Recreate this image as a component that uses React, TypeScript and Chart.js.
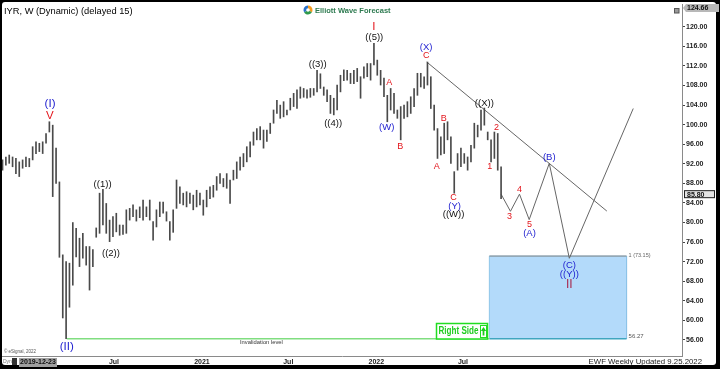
import React, { useEffect, useRef } from 'react';
import { Chart, registerables } from 'chart.js';

Chart.register(...registerables);

const FONT = '"Liberation Sans", Arial, sans-serif';

// Weekly bars: index 0 is the week of 2019-11-11 (week -6 relative to 2019-12-23)
const FIRST_WEEK = -6;
const weeklyLows = [
  90.7, 91.7, 92.1, 91.4, 90.0, 89.4,
  91.1, 91.4, 91.4, 92.8, 94.1, 94.5, 94.1, 96.2, 98.5, 85.3,
  88.0, 72.9, 60.5, 56.27, 62.7, 67.2, 73.0, 71.0, 72.7, 71.3,
  66.2, 71.0, 77.0, 77.8, 79.5, 77.8, 76.1, 77.1, 78.1, 77.4,
  77.6, 77.8, 80.5, 81.2, 80.3, 81.0, 80.5, 81.2, 80.5, 76.4,
  79.1, 81.2, 81.9, 80.3, 76.4, 78.0, 82.9, 83.9, 83.6, 83.2,
  83.9, 82.6, 83.2, 83.6, 81.5, 83.2, 84.9, 85.2, 86.6, 88.0,
  87.3, 87.0, 83.9, 88.7, 89.0, 90.7, 91.4, 92.4, 93.4, 95.8,
  96.9, 96.9, 95.2, 96.6, 98.2, 100.3, 102.3, 101.3, 101.6, 102.0,
  103.0, 103.7, 103.3, 105.4, 105.6, 105.4, 105.6, 106.0, 106.7, 107.4,
  106.0, 104.7, 102.3, 102.0, 103.0, 106.7, 109.0, 109.1, 108.4, 108.4,
  108.8, 105.4, 109.5, 109.8, 109.1, 112.2, 110.1, 108.1, 105.7, 100.6,
  103.0, 102.3, 101.3, 96.9, 101.3, 101.6, 102.3, 103.7, 106.0, 107.7,
  107.4, 108.1, 103.3, 98.9, 93.1, 93.8, 94.1, 96.9, 92.1, 86.0,
  90.7, 91.4, 92.1, 90.7, 92.4, 95.2, 97.5, 98.9, 99.9, 96.9,
  92.4, 93.1, 90.7, 84.9,
];
const weeklyHighs = [
  92.8, 93.4, 93.8, 93.4, 93.1, 92.4,
  92.8, 93.4, 93.1, 95.5, 96.5, 96.2, 96.5, 98.2, 100.6, 99.9,
  95.2, 88.3, 73.4, 72.0, 71.7, 80.0, 78.8, 76.8, 77.8, 75.1,
  75.1, 74.5, 78.9, 86.0, 86.8, 83.9, 80.5, 81.2, 81.9, 79.5,
  79.5, 82.6, 82.9, 83.6, 82.6, 83.2, 84.6, 83.2, 84.6, 80.2,
  82.6, 84.2, 84.2, 82.2, 80.2, 82.6, 88.7, 87.3, 86.0, 86.3,
  86.0, 85.6, 86.6, 86.0, 84.6, 86.6, 87.3, 87.6, 89.4, 90.0,
  89.0, 90.0, 88.7, 90.7, 92.4, 93.4, 94.1, 95.5, 96.5, 98.5,
  99.2, 99.6, 98.9, 98.9, 100.3, 103.0, 105.0, 104.0, 104.7, 103.0,
  105.4, 106.4, 107.1, 107.7, 107.4, 107.1, 107.4, 107.4, 111.1, 110.4,
  107.7, 107.1, 106.0, 105.4, 108.1, 110.1, 111.2, 111.1, 110.5, 111.1,
  111.5, 109.8, 111.8, 112.5, 112.5, 116.6, 113.2, 111.1, 109.5, 106.0,
  107.4, 106.4, 103.0, 103.7, 104.0, 104.7, 105.7, 107.4, 110.5, 110.5,
  109.8, 112.8, 109.8, 104.0, 99.2, 97.5, 100.3, 100.6, 97.5, 90.4,
  94.1, 95.2, 94.1, 93.4, 95.8, 100.3, 99.9, 103.0, 103.4, 98.5,
  96.9, 98.5, 98.2, 91.4,
];
const lastClose = 85.8;
const scaleTop = 124.66;

const yTickValues = [56, 60, 64, 68, 72, 76, 80, 84, 88, 92, 96, 100, 104, 108, 112, 116, 120];
const xTickWeeks = [27.3, 53.6, 79.4, 105.7, 131.6];
const xTickLabels = ['Jul', '2021', 'Jul', '2022', 'Jul'];
const cursorDateLabel = '2019-12-23';

// Projected path and trend line (week index, price)
const projectionWeeks = [143, 145.8, 148.5, 151.4, 157.4, 163.4, 182.5];
const projectionValues = [85.8, 82.3, 85.8, 80.6, 92.1, 72.7, 103.3];
const trendWeeks = [120.8, 174.6];
const trendValues = [112.8, 82.35];

// Target box (blue) and invalidation level
const targetBoxWeeks = [139.5, 180.5];
const targetBoxTop = 73.15;
const targetBoxBottom = 56.27;
const invalidationLevel = 56.27;
const invalidationStartWeek = 13.2;

// Elliott wave labels
const waveTexts = ['(I)', 'V', '(II)', '((1))', '((2))', '((3))', '((4))', 'I', '((5))', 'A', '(W)', 'B', '(X)', 'C', 'A', 'B', 'C', '(Y)', '((W))', '((X))', '1', '2', '3', '4', '5', '(A)', '(B)', '(C)', '((Y))', 'II'];
const waveWeeks = [8.2, 8.1, 13.2, 23.9, 26.4, 88.2, 92.8, 105.0, 105.1, 109.6, 108.8, 112.9, 120.6, 120.6, 123.8, 125.9, 128.8, 129.1, 128.8, 138.0, 139.6, 141.6, 145.5, 148.5, 151.5, 151.5, 157.4, 163.4, 163.4, 163.4];
const waveValues = [104.35, 101.85, 54.6, 87.9, 73.7, 112.3, 100.3, 120.0, 117.9, 108.6, 99.5, 95.6, 115.8, 114.2, 91.4, 101.3, 85.2, 83.4, 81.6, 104.35, 91.5, 99.5, 81.2, 86.8, 79.5, 77.7, 93.3, 71.3, 69.4, 67.4];
const waveDegrees = ['supercycle', 'cycle', 'supercycle', 'primary', 'primary', 'primary', 'primary', 'cycle', 'primary', 'minor', 'intermediate', 'minor', 'intermediate', 'minor', 'minor', 'minor', 'minor', 'intermediate', 'primary', 'primary', 'minute', 'minute', 'minute', 'minute', 'minute', 'intermediate', 'intermediate', 'intermediate', 'primaryProjected', 'cycleProjected'];

const degreeStyle: Record<string, { color: string; size: number }> = {
  supercycle: { color: '#1c1ccf', size: 11.5 },
  cycle: { color: '#e3141b', size: 11.5 },
  cycleProjected: { color: '#a8284e', size: 12 },
  primary: { color: '#111111', size: 9.5 },
  primaryProjected: { color: '#1c1ccf', size: 9.5 },
  intermediate: { color: '#1c1ccf', size: 9.5 },
  minor: { color: '#e3141b', size: 9 },
  minute: { color: '#e3141b', size: 9 },
};

const framePlugin = {
  id: 'frame',
  beforeDraw(chart: any) {
    const ctx = chart.ctx;
    ctx.save();
    ctx.fillStyle = '#000';
    ctx.fillRect(0, 0, chart.width, chart.height);
    ctx.fillStyle = '#fff';
    ctx.beginPath();
    if (ctx.roundRect) ctx.roundRect(2, 2, 714, 363, 3);
    else ctx.rect(2, 2, 714, 363);
    ctx.fill();
    ctx.restore();
  },
};

const overlayPlugin = {
  id: 'overlay',
  afterDatasetsDraw(chart: any) {
    const ctx = chart.ctx;
    const xs = chart.scales.x;
    const ys = chart.scales.y;
    ctx.save();
    ctx.textAlign = 'center';
    ctx.textBaseline = 'middle';
    waveTexts.forEach((t, i) => {
      const st = degreeStyle[waveDegrees[i]];
      ctx.font = `${st.size}px ${FONT}`;
      ctx.fillStyle = st.color;
      ctx.fillText(t, xs.getPixelForValue(waveWeeks[i]), ys.getPixelForValue(waveValues[i]));
    });

    // target box labels
    const bx = xs.getPixelForValue(targetBoxWeeks[1]) + 2;
    ctx.textAlign = 'left';
    ctx.font = `5.5px ${FONT}`;
    ctx.fillStyle = '#666';
    ctx.fillText(`1 (${targetBoxTop.toFixed(2)})`, bx, ys.getPixelForValue(targetBoxTop) - 1);
    ctx.font = `6px ${FONT}`;
    ctx.fillStyle = '#555';
    ctx.fillText(targetBoxBottom.toFixed(2), bx, ys.getPixelForValue(targetBoxBottom) - 2);

    // invalidation text
    ctx.font = `5.8px ${FONT}`;
    ctx.fillStyle = '#333';
    ctx.fillText('Invalidation level', 240, ys.getPixelForValue(invalidationLevel) + 4);

    // Right Side box
    ctx.strokeStyle = '#22dd22';
    ctx.lineWidth = 1.5;
    ctx.fillStyle = '#fff';
    ctx.fillRect(436, 323.5, 51.5, 15.5);
    ctx.strokeRect(436.5, 323.5, 51, 15.5);
    ctx.fillStyle = '#1fcc1f';
    ctx.font = `bold 10.5px "Liberation Sans Narrow", ${FONT}`;
    ctx.fillText('Right Side', 438.5, 331.5, 40);
    ctx.lineWidth = 1;
    ctx.strokeRect(480.5, 325.5, 6, 12);
    ctx.beginPath();
    ctx.moveTo(483.5, 327);
    ctx.lineTo(480.8, 331);
    ctx.lineTo(486.2, 331);
    ctx.closePath();
    ctx.fill();
    ctx.fillRect(482.6, 331, 1.8, 4.5);
    ctx.restore();
  },
  afterDraw(chart: any) {
    const ctx = chart.ctx;
    const ys = chart.scales.y;
    ctx.save();
    ctx.textBaseline = 'middle';
    ctx.textAlign = 'left';
    // title
    ctx.font = `9.3px ${FONT}`;
    ctx.fillStyle = '#000';
    ctx.fillText('IYR, W (Dynamic) (delayed 15)', 4, 11);

    // logo
    const cx = 308, cy = 10;
    const cols = ['#f39a1e', '#2f9a4c', '#2a70c8'];
    for (let k = 0; k < 3; k++) {
      ctx.beginPath();
      ctx.moveTo(cx, cy);
      ctx.arc(cx, cy, 4.5, (k * 2 * Math.PI) / 3 - Math.PI / 2, ((k + 1) * 2 * Math.PI) / 3 - Math.PI / 2);
      ctx.closePath();
      ctx.fillStyle = cols[k];
      ctx.fill();
    }
    ctx.beginPath();
    ctx.arc(cx, cy, 1.8, 0, Math.PI * 2);
    ctx.fillStyle = '#fff';
    ctx.fill();
    ctx.font = `bold 7.5px ${FONT}`;
    ctx.fillStyle = '#2d7a50';
    ctx.fillText('Elliott Wave Forecast', 315, 10.5);

    // top-right icon
    ctx.fillStyle = '#999';
    ctx.fillRect(674, 8, 5, 5);
    ctx.strokeStyle = '#555';
    ctx.lineWidth = 1;
    ctx.strokeRect(674.5, 8.5, 4.5, 4.5);

    // top value box
    const ty = ys.getPixelForValue(scaleTop) + 4;
    ctx.fillStyle = '#b8b8b8';
    ctx.beginPath();
    ctx.moveTo(683, ty);
    ctx.lineTo(686, ty - 4);
    ctx.lineTo(719, ty - 4);
    ctx.lineTo(719, ty + 4);
    ctx.lineTo(686, ty + 4);
    ctx.closePath();
    ctx.fill();
    ctx.font = `bold 7px ${FONT}`;
    ctx.fillStyle = '#111';
    ctx.fillText(scaleTop.toFixed(2), 687, ty + 0.5);

    // last price box
    const ly = ys.getPixelForValue(lastClose);
    ctx.fillStyle = '#e4e4e4';
    ctx.fillRect(684, ly - 4, 31, 8);
    ctx.strokeStyle = '#222';
    ctx.strokeRect(684.5, ly - 3.5, 30, 7);
    ctx.fillStyle = '#111';
    ctx.fillText(lastClose.toFixed(2), 687, ly + 0.5);

    // bottom-left texts
    ctx.font = `4.5px ${FONT}`;
    ctx.fillStyle = '#555';
    ctx.fillText('\u00a9 eSignal, 2022', 4, 352);
    ctx.font = `5px ${FONT}`;
    ctx.fillStyle = '#777';
    ctx.fillText('Dyn', 3, 362);
    ctx.fillStyle = '#333';
    ctx.fillRect(12, 358, 5, 7);
    ctx.fillStyle = '#a0a0a0';
    ctx.fillRect(19, 358, 38, 9);
    ctx.font = `bold 7px ${FONT}`;
    ctx.fillStyle = '#111';
    ctx.textAlign = 'center';
    ctx.fillText(cursorDateLabel, 38, 362.5);

    // bottom-right
    ctx.textAlign = 'right';
    ctx.font = `7.8px ${FONT}`;
    ctx.fillStyle = '#222';
    ctx.fillText('EWF Weekly Updated 9.25.2022', 702, 362);
    ctx.restore();
  },
};

export default function App() {
  const ref = useRef<HTMLCanvasElement>(null);
  useEffect(() => {
    document.body.style.margin = '0';
    const canvas = ref.current;
    if (!canvas) return;
    const bars = weeklyHighs.map((h, i) => ({ x: FIRST_WEEK + i, y: [weeklyLows[i], h] }));
    const projection = projectionWeeks.map((w, i) => ({ x: w, y: projectionValues[i] }));
    const trend = trendWeeks.map((w, i) => ({ x: w, y: trendValues[i] }));
    const boxPoly = [
      { x: targetBoxWeeks[0], y: targetBoxBottom },
      { x: targetBoxWeeks[0], y: targetBoxTop },
      { x: targetBoxWeeks[1], y: targetBoxTop },
      { x: targetBoxWeeks[1], y: targetBoxBottom },
    ];
    const boxTop = [
      { x: targetBoxWeeks[0], y: targetBoxTop },
      { x: targetBoxWeeks[1], y: targetBoxTop },
    ];
    const boxBottom = [
      { x: targetBoxWeeks[0], y: targetBoxBottom },
      { x: targetBoxWeeks[1], y: targetBoxBottom },
    ];
    const invalidation = [
      { x: invalidationStartWeek, y: invalidationLevel },
      { x: targetBoxWeeks[0], y: invalidationLevel },
    ];
    const lineBase = { pointRadius: 0, tension: 0, fill: false, borderWidth: 1 };

    const chart = new Chart(canvas, {
      type: 'bar',
      data: {
        datasets: [
          {
            type: 'bar',
            data: bars as any,
            backgroundColor: '#4a4a4a',
            barThickness: 1,
            borderWidth: 0,
            grouped: false,
            order: 0,
          } as any,
          { type: 'line', data: projection as any, borderColor: '#666', ...lineBase, order: 1 } as any,
          { type: 'line', data: trend as any, borderColor: '#666', ...lineBase, order: 1 } as any,
          { type: 'line', data: invalidation as any, borderColor: '#80de80', ...lineBase, borderWidth: 1.5, order: 2 } as any,
          { type: 'line', data: boxTop as any, borderColor: '#8a8a8a', ...lineBase, order: 3 } as any,
          { type: 'line', data: boxBottom as any, borderColor: '#3fa6bf', ...lineBase, borderWidth: 1.5, order: 3 } as any,
          {
            type: 'line',
            data: boxPoly as any,
            borderColor: '#8cc4e8',
            backgroundColor: '#b3dafa',
            pointRadius: 0,
            tension: 0,
            borderWidth: 1,
            fill: { value: targetBoxBottom },
            order: 4,
          } as any,
        ],
      },
      options: {
        responsive: false,
        animation: false,
        devicePixelRatio: 1,
        events: [],
        layout: { padding: { left: 2, right: 2, top: 4, bottom: 3 } },
        plugins: { legend: { display: false }, tooltip: { enabled: false } },
        scales: {
          x: {
            type: 'linear',
            min: -6.16,
            max: 197.07,
            offset: false,
            afterFit: (s: any) => {
              s.height = 10;
              s.paddingLeft = 0;
              s.paddingRight = 0;
            },
            afterBuildTicks: (s: any) => {
              s.ticks = xTickWeeks.map((v) => ({ value: v }));
            },
            ticks: {
              autoSkip: false,
              maxRotation: 0,
              padding: 2,
              color: '#222',
              font: { size: 7, weight: 'bold', family: FONT },
              callback: (_v: any, i: number) => xTickLabels[i],
            },
            grid: { drawOnChartArea: false, drawTicks: false, offset: false },
            border: { display: true, color: '#8a8a8a' },
          },
          y: {
            type: 'linear',
            position: 'right',
            min: 52.73,
            max: scaleTop,
            afterFit: (s: any) => {
              s.width = 36;
              s.paddingTop = 0;
              s.paddingBottom = 0;
            },
            afterBuildTicks: (s: any) => {
              s.ticks = yTickValues.map((v) => ({ value: v }));
            },
            ticks: {
              padding: 1,
              color: '#222',
              font: { size: 7, weight: 'bold', family: FONT },
              callback: (v: any) => Number(v).toFixed(2),
            },
            grid: { drawOnChartArea: false, drawTicks: true, tickLength: 3, color: '#444' },
            border: { display: true, color: '#8a8a8a' },
          },
        },
      } as any,
      plugins: [framePlugin, overlayPlugin],
    });
    return () => chart.destroy();
  }, []);

  return (
    <div style={{ position: 'absolute', left: 0, top: 0, width: 720, height: 369 }}>
      <canvas ref={ref} width={720} height={369} style={{ display: 'block' }} />
    </div>
  );
}
